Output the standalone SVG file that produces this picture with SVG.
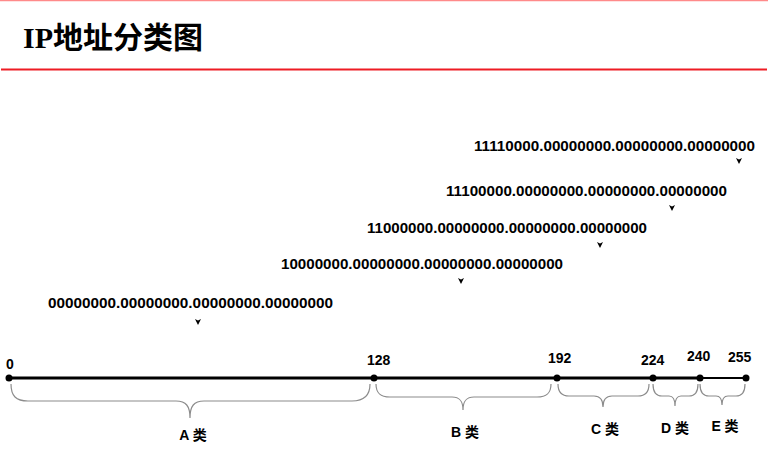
<svg xmlns="http://www.w3.org/2000/svg" xmlns:xlink="http://www.w3.org/1999/xlink" width="768" height="468" viewBox="0 0 768 468">
<defs>
<style>
.bin{font-family:"Liberation Sans",Arial,sans-serif;font-weight:bold;font-size:15.2px;fill:#000}
.num{font-family:"Liberation Sans",Arial,sans-serif;font-weight:bold;font-size:14px;fill:#000}
.cls{font-family:"Liberation Sans","Noto Sans CJK SC",sans-serif;font-weight:bold;font-size:14px;fill:#000;text-anchor:middle}
.brace{fill:none;stroke:#8c8c8c;stroke-width:1.2}
.dot{fill:#000}
</style>
<path id="ah" d="M-3,-3 L0,-1.5 L3,-3 L0,3 Z" fill="#000"/>
</defs>
<rect width="768" height="468" fill="#fff"/>
<g id="header">
<line x1="0" y1="0.5" x2="768" y2="0.5" stroke="#ff8a8a" stroke-width="1.5"/>
<text x="23" y="48" font-family="'Liberation Serif','Noto Sans CJK SC',serif" font-weight="bold" font-size="30" textLength="180" lengthAdjust="spacingAndGlyphs">IP地址分类图</text>
<line x1="1" y1="69.5" x2="767" y2="69.5" stroke="#ee1c24" stroke-width="2.2"/>
</g>
<g id="binaries">
<g id="bin-E"><text class="bin" x="474" y="151" textLength="281" lengthAdjust="spacingAndGlyphs">11110000.00000000.00000000.00000000</text></g>
<g id="bin-D"><text class="bin" x="446" y="196" textLength="281" lengthAdjust="spacingAndGlyphs">11100000.00000000.00000000.00000000</text></g>
<g id="bin-C"><text class="bin" x="367" y="233" textLength="280" lengthAdjust="spacingAndGlyphs">11000000.00000000.00000000.00000000</text></g>
<g id="bin-B"><text class="bin" x="281" y="269" textLength="282" lengthAdjust="spacingAndGlyphs">10000000.00000000.00000000.00000000</text></g>
<g id="bin-A"><text class="bin" x="48" y="308" textLength="285" lengthAdjust="spacingAndGlyphs">00000000.00000000.00000000.00000000</text></g>
</g>
<g id="connectors">
<use xlink:href="#ah" x="739" y="161"/>
<use xlink:href="#ah" x="672" y="208"/>
<use xlink:href="#ah" x="600" y="245"/>
<use xlink:href="#ah" x="461" y="281"/>
<use xlink:href="#ah" x="198" y="322"/>
</g>
<g id="axis">
<line x1="9" y1="378" x2="700" y2="378" stroke="#000" stroke-width="3"/>
<line x1="700" y1="378" x2="746" y2="378" stroke="#000" stroke-width="2"/>
<circle class="dot" cx="9" cy="378" r="3.5"/>
<circle class="dot" cx="374" cy="378" r="3.5"/>
<circle class="dot" cx="557" cy="378" r="3.5"/>
<circle class="dot" cx="653" cy="378" r="3.5"/>
<circle class="dot" cx="700" cy="378" r="3.5"/>
<circle class="dot" cx="746" cy="378" r="3.5"/>
<text class="num" x="6" y="369">0</text>
<text class="num" x="367" y="365">128</text>
<text class="num" x="548" y="363">192</text>
<text class="num" x="641" y="365">224</text>
<text class="num" x="687" y="361">240</text>
<text class="num" x="728" y="362">255</text>
</g>
<g id="class-A">
<path class="brace" d="M11,384 C11,396 16,401 28,401 L176,401 C186,401 190,406 190,418 C190,406 194,401 204,401 L352,401 C364,401 370,396 370,384"/>
<text class="cls" x="193" y="440">A 类</text>
</g>
<g id="class-B">
<path class="brace" d="M376,384 C376,393 380,397 390,397 L452,397 C460,397 463,401 463,410 C463,401 466,397 474,397 L537,397 C547,397 551,393 551,384"/>
<text class="cls" x="465" y="437">B 类</text>
</g>
<g id="class-C">
<path class="brace" d="M558,384 C558,392 561,396 569,396 L594,396 C600,396 603,400 603,407 C603,400 606,396 612,396 L638,396 C646,396 649,392 649,384"/>
<text class="cls" x="605" y="434">C 类</text>
</g>
<g id="class-D">
<path class="brace" d="M653,384 C653,392 656,396 662,396 L669,396 C673,396 675,400 675,406 C675,400 677,396 681,396 L689,396 C695,396 698,392 698,384"/>
<text class="cls" x="675" y="433">D 类</text>
</g>
<g id="class-E">
<path class="brace" d="M700,384 C700,392 703,396 709,396 L716,396 C720,396 722,400 722,405 C722,400 724,396 728,396 L736,396 C742,396 745,392 745,384"/>
<text class="cls" x="725" y="431">E 类</text>
</g>
</svg>
